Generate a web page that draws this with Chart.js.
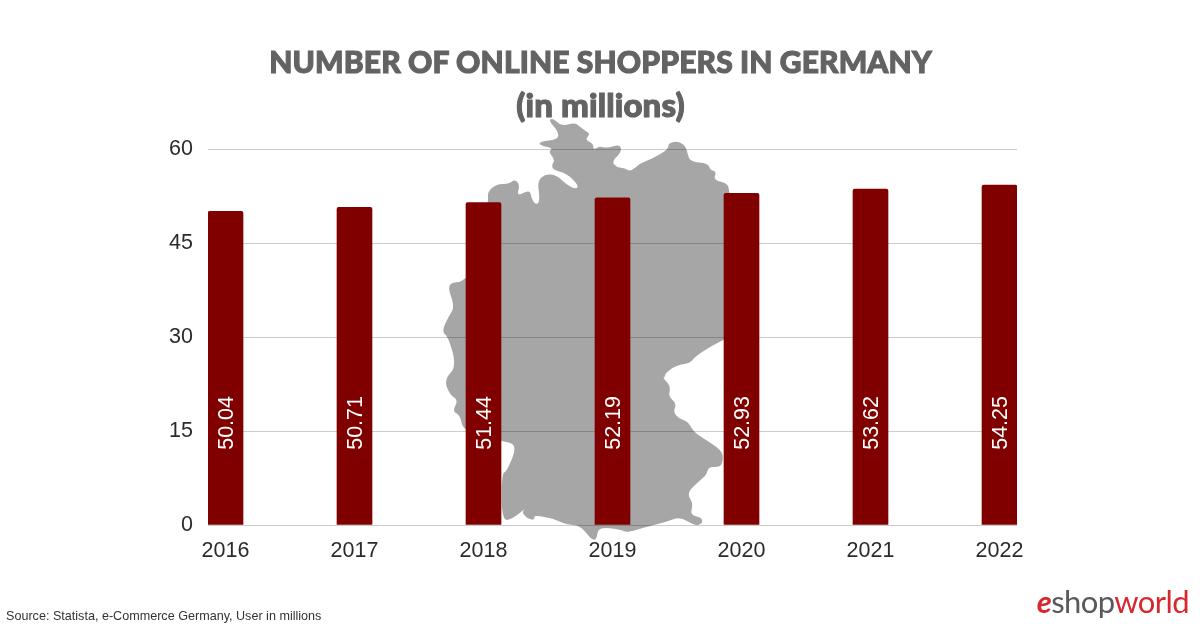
<!DOCTYPE html>
<html>
<head>
<meta charset="utf-8">
<title>Online shoppers in Germany</title>
<script src="https://cdn.jsdelivr.net/npm/chart.js@4"></script>
<style>
    html, body { margin: 0; padding: 0; background: #fff; }
    #page { position: relative; width: 1200px; height: 627px; overflow: hidden; }
    #map, #chart { position: absolute; left: 0; top: 0; }
    #heading { position: absolute; left: 0; top: 40px; width: 1201px; text-align: center; font: 900 30px/43px Lato, sans-serif; color: #636363; -webkit-text-stroke: 1.1px #636363; letter-spacing: 0.13px; }
    #heading span { font-size: 33px; }
    #source { position: absolute; left: 6px; top: 609px; font: 12.6px "Liberation Sans", sans-serif; color: #333; white-space: nowrap; }
    #logo { position: absolute; right: 11px; top: 582px; font: 31px Lato, sans-serif; letter-spacing: -0.6px; color: #d7282f; white-space: nowrap; }
    #logo i { font-weight: 700; }
    #logo span { color: #58595b; }
</style>
</head>
<body>
<div id="page">
    <svg id="map" width="1200" height="627"><path id="germany" fill="#a6a6a6"></path></svg>
    <canvas id="chart" width="1200" height="627"></canvas>
    <div id="heading"></div>
    <div id="source">Source: Statista, e-Commerce Germany, User in millions</div>
    <div id="logo"><i>e</i><span>shop</span>world</div>
</div>
<script>
const years = [2016, 2017, 2018, 2019, 2020, 2021, 2022];
const shoppers = [50.04, 50.71, 51.44, 52.19, 52.93, 53.62, 54.25];
const yTicks = [0, 15, 30, 45, 60];
const titleMain = 'NUMBER OF ONLINE SHOPPERS IN GERMANY';
const titleUnit = '(in millions)';

// country outline, only a backdrop
const outline = [
    [385,30],[400,25],[420,45],[440,45],[465,38],[480,50],[500,65],[510,72],[495,90],[520,100],[520,120],[540,108],
    [560,115],[600,103],[605,125],[575,155],[590,172],[615,175],[632,185],[660,160],[700,145],[745,118],[745,100],
    [770,93],[795,105],[803,130],[810,155],[865,160],[870,180],[890,185],[880,210],[925,220],[927,250],[950,300],
    [960,400],[985,500],[990,620],[960,660],[915,688],[870,710],[825,740],[810,760],[770,765],[735,790],[733,808],
    [720,790],[735,810],[752,830],[745,860],[770,880],[760,905],[775,925],[805,935],[820,965],[850,985],[905,1020],
    [910,1050],[900,1072],[865,1070],[860,1095],[835,1115],[800,1150],[820,1180],[810,1215],[845,1222],[848,1240],
    [825,1248],[780,1220],[740,1235],[680,1250],[620,1268],[605,1260],[535,1250],[530,1288],[515,1290],[480,1245],
    [440,1245],[400,1225],[340,1215],[345,1230],[320,1225],[305,1205],[320,1192],[280,1225],[245,1235],[245,1090],
    [260,1085],[293,1005],[245,992],[130,965],[120,915],[97,905],[115,870],[90,855],[72,810],[110,770],[85,680],
    [65,665],[85,620],[105,590],[78,518],[140,516],[190,400],[205,270],[203,245],[230,222],[265,222],[285,208],
    [300,225],[290,260],[330,238],[335,270],[350,285],[360,270],[352,215],[375,192],[410,195],[440,225],[470,238],
    [475,225],[440,190],[400,180],[395,165],[405,150],[385,125],[400,115],[358,105],[360,95],[415,88],[415,65]
];

function drawMap() {
    const pts = outline.map(p => [420 + p[0] / 3, 110 + p[1] / 3]);
    const mid = (a, b) => ((a + b) / 2).toFixed(1);
    const last = pts[pts.length - 1];
    let d = `M${mid(last[0], pts[0][0])} ${mid(last[1], pts[0][1])}`;
    pts.forEach((p, i) => {
        const next = pts[(i + 1) % pts.length];
        d += `Q${p[0].toFixed(1)} ${p[1].toFixed(1)} ${mid(p[0], next[0])} ${mid(p[1], next[1])}`;
    });
    document.getElementById('germany').setAttribute('d', d + 'Z');
}

// white rotated values, all starting at the same height inside the bars
const barValues = {
    id: 'barValues',
    afterDatasetsDraw(chart) {
        const ctx = chart.ctx;
        const startY = chart.scales.y.getPixelForValue(12);
        ctx.save();
        ctx.fillStyle = '#fff';
        ctx.font = '21.5px "Liberation Sans"';
        ctx.textAlign = 'left';
        ctx.textBaseline = 'middle';
        chart.getDatasetMeta(0).data.forEach((bar, i) => {
            ctx.save();
            ctx.translate(bar.x, startY);
            ctx.rotate(-Math.PI / 2);
            ctx.fillText(shoppers[i].toFixed(2), 0, 2);
            ctx.restore();
        });
        ctx.restore();
    }
};

drawMap();
document.getElementById('heading').innerHTML = `${titleMain}<br><span>${titleUnit}</span>`;

new Chart(document.getElementById('chart'), {
    type: 'bar',
    data: {
        datasets: [{
            data: years.map((y, i) => ({ x: y, y: shoppers[i] })),
            backgroundColor: '#800000',
            barThickness: 35,
            borderRadius: { topLeft: 2, topRight: 2 },
            borderSkipped: 'bottom'
        }]
    },
    plugins: [barValues],
    options: {
        responsive: false,
        animation: false,
        devicePixelRatio: 1,
        layout: { padding: { left: 0, right: 183, top: 149, bottom: 0 } },
        plugins: {
            legend: { display: false },
            tooltip: { enabled: false },
            title: { display: false }
        },
        scales: {
            x: {
                type: 'linear',
                offset: false,
                // bars sit flush with both ends of the gridlines
                min: 2016 - 17.5 / 129,
                max: 2022 + 17.5 / 129,
                grid: { display: false },
                border: { display: false },
                afterFit: s => { s.height = 627 - 525; },
                ticks: {
                    stepSize: 1,
                    includeBounds: false,
                    autoSkip: false,
                    maxRotation: 0,
                    padding: 5,
                    color: '#2b2b2b',
                    font: { family: 'Liberation Sans', size: 21.5 },
                    callback: v => String(v)
                }
            },
            y: {
                min: 0,
                max: 60,
                afterFit: s => { s.width = 208; },
                afterBuildTicks: s => { s.ticks = yTicks.map(v => ({ value: v })); },
                border: { display: false },
                grid: { color: 'rgba(0,0,0,0.2)', lineWidth: 1, drawTicks: false },
                ticks: {
                    padding: 15,
                    color: '#2b2b2b',
                    font: { family: 'Liberation Sans', size: 21.5 }
                }
            }
        }
    }
});
</script>
</body>
</html>
